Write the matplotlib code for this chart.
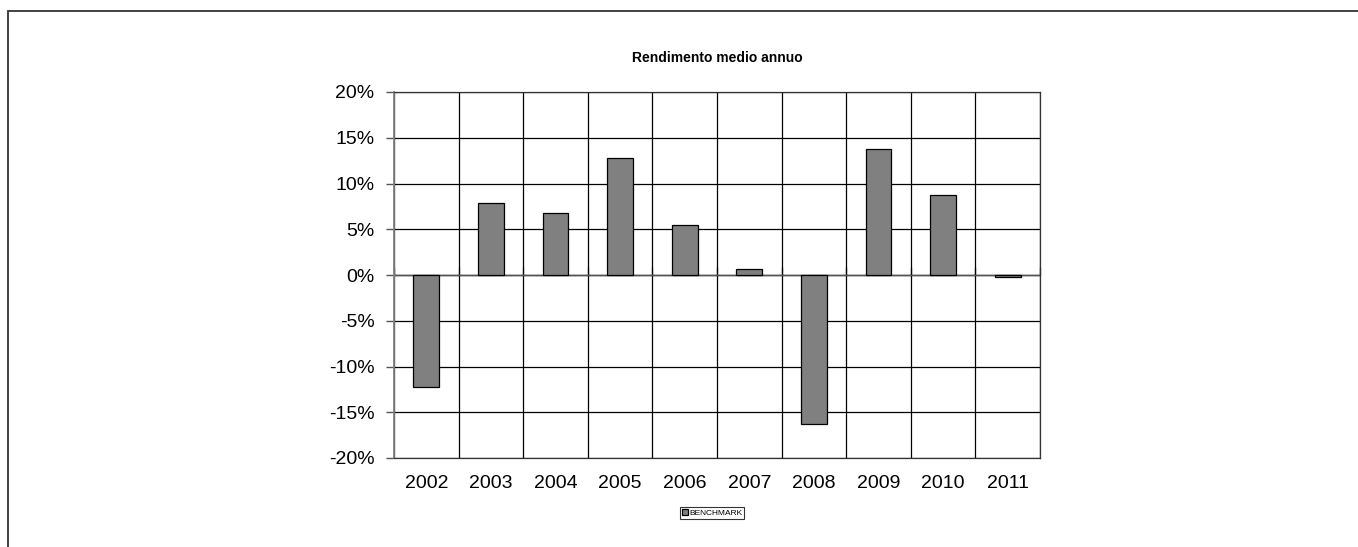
import matplotlib
matplotlib.use("Agg")
import matplotlib.pyplot as plt
from matplotlib.patches import Rectangle
from matplotlib.ticker import FuncFormatter
import numpy as np

years = ["2002", "2003", "2004", "2005", "2006", "2007", "2008", "2009", "2010", "2011"]
benchmark = [-12.25, 7.9, 6.8, 12.8, 5.5, 0.7, -16.3, 13.75, 8.7, -0.2]
series_name = "BENCHMARK"
title = "Rendimento medio annuo"

plt.rcParams["font.family"] = ["Liberation Sans", "DejaVu Sans"]

W, H = 1358, 547
fig = plt.figure(figsize=(W / 100, H / 100), dpi=100)
ax = fig.add_axes([394 / W, 1 - 458 / H, (1040 - 394) / W, (458 - 92) / H])

x = np.arange(len(years))
bars = ax.bar(x, benchmark, width=0.4, color="#808080", edgecolor="black",
              linewidth=0.9, zorder=3, label=series_name)

ax.set_xlim(-0.5, len(years) - 0.5)
ax.set_ylim(-20, 20)
ax.set_yticks(np.arange(-20, 21, 5))
ax.yaxis.set_major_formatter(FuncFormatter(lambda v, _: f"{v:.0f}%"))

# gridlines on category boundaries, labels at category centres
ax.set_xticks(np.arange(-0.5, len(years)), minor=False)
ax.set_xticklabels([])
ax.set_xticks(x, minor=True)
ax.set_xticklabels(years, minor=True)
ax.tick_params(axis="x", which="both", length=0)
ax.tick_params(axis="x", which="minor", labelsize=14, pad=12)
ax.tick_params(axis="y", direction="out", length=6, width=1, color="#555555",
               labelsize=14, pad=8)
ax.grid(True, which="major", color="black", linewidth=0.9, zorder=0)

for side in ["top", "right", "bottom"]:
    ax.spines[side].set_color("#333333")
    ax.spines[side].set_linewidth(0.9)
ax.spines["left"].set_color("#808080")
ax.spines["left"].set_linewidth(1.3)

# category axis crossing at 0%
ax.axhline(0, color="#555555", linewidth=1.0, zorder=2)
sec = ax.secondary_xaxis(0.5)
sec.set_xticks(np.arange(-0.5, len(years)))
sec.set_xticklabels([])
sec.tick_params(axis="x", direction="out", length=6, width=1, color="#555555")
sec.spines["bottom"].set_visible(False)

fig.text(717 / W, 1 - 58 / H, title, ha="center", va="center",
         fontsize=10, fontweight="bold")

leg = fig.legend(handles=[bars], labels=[series_name], loc="center",
                 bbox_to_anchor=(712 / W, 1 - 513 / H), fontsize=6,
                 frameon=True, fancybox=False, edgecolor="black",
                 handlelength=0.7, handleheight=0.7, handletextpad=0.2,
                 borderpad=0.25, borderaxespad=0)
leg.get_frame().set_linewidth(0.8)

fig.patches.append(Rectangle((8 / W, -0.1), 1.2, 1 - 11 / H + 0.1,
                             transform=fig.transFigure, fill=False,
                             edgecolor="#333333", linewidth=1.3))

fig.savefig("out.png", dpi=100)
